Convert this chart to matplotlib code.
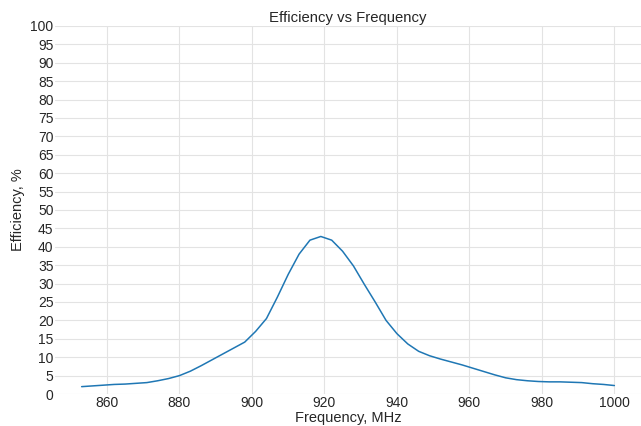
import matplotlib
matplotlib.use('Agg')
import matplotlib.pyplot as plt
import seaborn as sns
import numpy as np

# frequency, MHz (every 3 MHz)
freq = np.arange(853, 1001, 3)
eff = [2.0, 2.2, 2.4, 2.6, 2.7, 2.9, 3.1, 3.6, 4.2, 5.0,
       6.2, 7.7, 9.3, 10.9, 12.5, 14.1, 17.0, 20.5, 26.3, 32.5,
       38.0, 41.8, 42.8, 41.8, 38.8, 34.8, 29.8, 25.0, 20.0, 16.4,
       13.6, 11.6, 10.4, 9.5, 8.7, 7.9, 7.0, 6.1, 5.2, 4.4,
       3.9, 3.6, 3.4, 3.3, 3.3, 3.2, 3.1, 2.8, 2.6, 2.3]
x_ticks = [860, 880, 900, 920, 940, 960, 980, 1000]
y_ticks = list(range(0, 101, 5))

sns.set_style('whitegrid')
plt.rcParams['font.family'] = ['Liberation Sans', 'DejaVu Sans']

fig = plt.figure(figsize=(6.41, 4.26), dpi=100)
ax = fig.add_axes([0.0858, 0.0751, 0.9142, 0.864])

ax.plot(freq, eff, color='#1f77b4', linewidth=1.1)
ax.set_ylim(0, 100)
ax.set_yticks(y_ticks)
ax.set_xticks(x_ticks)
ax.tick_params(labelsize=10, length=0, pad=1.5, colors='#262626')
ax.tick_params(axis='y', pad=1)
ax.grid(color='#e3e3e3', linewidth=0.8)
for s in ax.spines.values():
    s.set_visible(False)

ax.set_title('Efficiency vs Frequency', fontsize=10.7, pad=3)
ax.set_xlabel('Frequency, MHz', fontsize=10.5, labelpad=1)
ax.set_ylabel('Efficiency, %', fontsize=10.5, labelpad=4)

plt.savefig('out.png', dpi=100)
